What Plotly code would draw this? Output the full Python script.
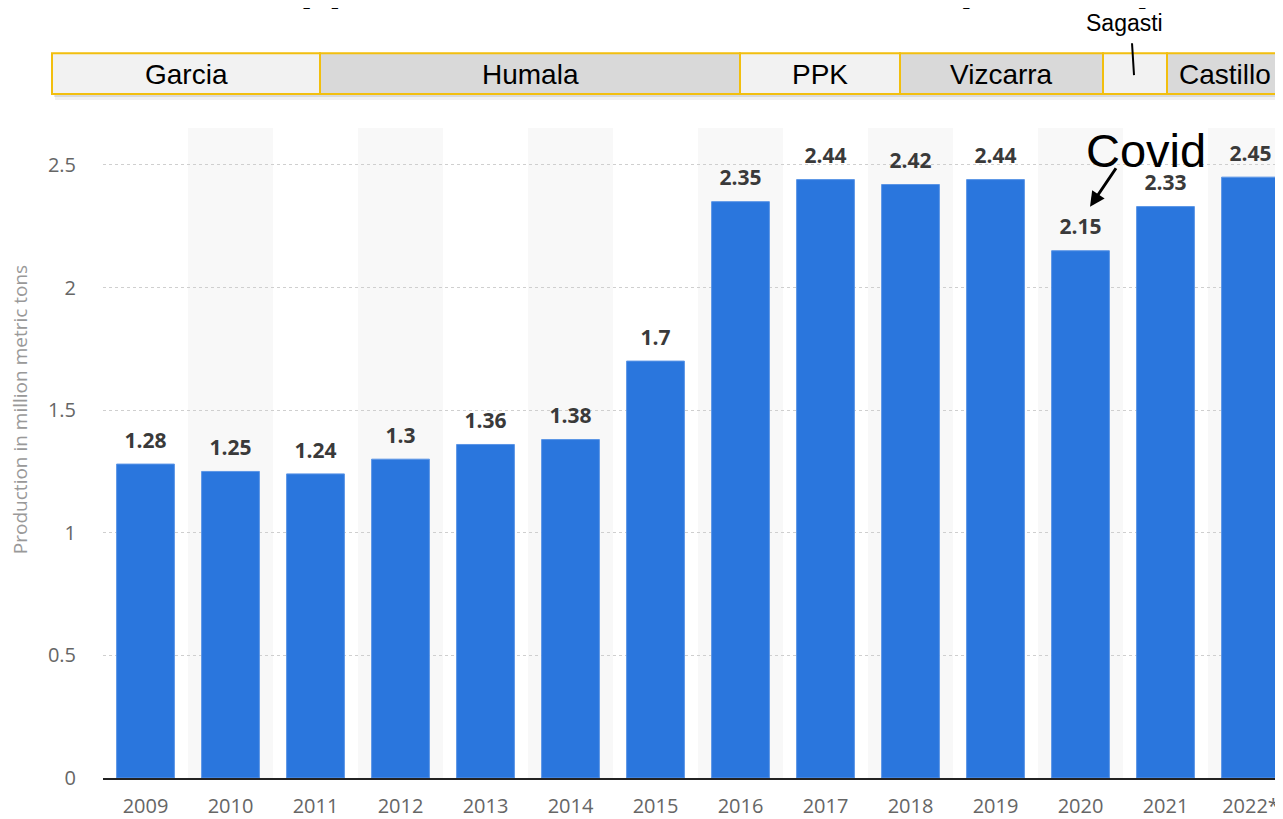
import plotly.graph_objects as go

# ---------------- data ----------------
years = ["2009", "2010", "2011", "2012", "2013", "2014", "2015",
         "2016", "2017", "2018", "2019", "2020", "2021", "2022*"]
production = [1.28, 1.25, 1.24, 1.3, 1.36, 1.38, 1.7,
              2.35, 2.44, 2.42, 2.44, 2.15, 2.33, 2.45]
value_labels = ["1.28", "1.25", "1.24", "1.3", "1.36", "1.38", "1.7",
                "2.35", "2.44", "2.42", "2.44", "2.15", "2.33", "2.45"]
y_ticks = [0, 0.5, 1, 1.5, 2, 2.5]
y_tick_labels = ["0", "0.5", "1", "1.5", "2", "2.5"]
presidents = ["Garcia", "Humala", "PPK", "Vizcarra", "", "Castillo"]
president_fills = ["#f2f2f2", "#d9d9d9", "#f2f2f2", "#d9d9d9", "#f2f2f2", "#d9d9d9"]
y_title = "Production in million metric tons"
title_text = "Copper Mine Production in Peru (2009-22)"

# ---------------- layout geometry (screen pixels) ----------------
OFF = 8                      # page (body) offset of the figure
W, H = 1283 - OFF, 819 - OFF
PL, PR, PT, PB = 103, 1283, 128, 780   # plot area on screen
band_edges = [52, 320, 740, 900, 1103, 1167, 1282]
BAND_T, BAND_B = 53, 94


def px(xs):
    return (xs - PL) / (PR - PL)


def py(ys):
    return (PB - ys) / (PB - PT)


n = len(years)
cat_w = 85.0
x_right = -0.5 + (PR - PL) / cat_w
y_top = (PB - PT) / 246.0

BAR = "#2a76dd"
FONT = "Open Sans"
ARIAL = "Liberation Sans"

fig = go.Figure()
fig.add_trace(go.Bar(
    x=list(range(n)), y=production,
    marker=dict(color=BAR, line=dict(width=1, color="#5b95e6")),
    width=0.68, hoverinfo="skip", showlegend=False,
))
fig.add_trace(go.Scatter(
    x=list(range(n)), y=production, mode="markers+text",
    text=value_labels, textposition="top center",
    textfont=dict(family=FONT, size=21, color="#3a3a3a", weight="bold"),
    marker=dict(size=16, color="rgba(0,0,0,0)"),
    hoverinfo="skip", showlegend=False, cliponaxis=False,
))

shapes = []
for i in range(n):
    if i % 2 == 1:
        shapes.append(dict(type="rect", xref="x", yref="paper",
                           x0=i - 0.5, x1=i + 0.5, y0=0, y1=1,
                           fillcolor="#f8f8f8", line=dict(width=0), layer="below"))
# band shadow
shapes.append(dict(type="rect", xref="paper", yref="paper",
                   x0=px(band_edges[0] + 3), x1=px(band_edges[-1] + 2),
                   y0=py(BAND_B + 6), y1=py(BAND_B),
                   fillcolor="rgba(0,0,0,0.06)", line=dict(width=0), layer="above"))
shapes.append(dict(type="rect", xref="paper", yref="paper",
                   x0=px(band_edges[0] + 2), x1=px(band_edges[-1] + 1),
                   y0=py(BAND_B + 3), y1=py(BAND_B),
                   fillcolor="rgba(0,0,0,0.09)", line=dict(width=0), layer="above"))
annotations = []
for k, name in enumerate(presidents):
    x0, x1 = band_edges[k], band_edges[k + 1]
    shapes.append(dict(type="rect", xref="paper", yref="paper",
                       x0=px(x0), x1=px(x1), y0=py(BAND_B), y1=py(BAND_T),
                       fillcolor=president_fills[k],
                       line=dict(color="#f2bf0f", width=2), layer="above"))
    if name:
        annotations.append(dict(xref="paper", yref="paper",
                                x=px((x0 + x1) / 2), y=py((BAND_T + BAND_B) / 2 + 1),
                                xanchor="center", yanchor="middle",
                                text=name, showarrow=False,
                                font=dict(family=ARIAL, size=28, color="#000")))
# Sagasti label + pointer line
annotations.append(dict(xref="paper", yref="paper", x=px(1124), y=py(23),
                        xanchor="center", yanchor="middle",
                        text="Sagasti", showarrow=False,
                        font=dict(family=ARIAL, size=23, color="#000")))
shapes.append(dict(type="line", xref="paper", yref="paper",
                   x0=px(1132), y0=py(43), x1=px(1134), y1=py(75),
                   line=dict(color="#000", width=2), layer="above"))

# Covid note + arrow
annotations.append(dict(xref="paper", yref="paper", x=px(1146), y=py(151),
                        xanchor="center", yanchor="middle",
                        text="Covid", showarrow=False,
                        font=dict(family=ARIAL, size=47, color="#000")))
annotations.append(dict(xref="paper", yref="paper", x=px(1090), y=py(207),
                        text="", showarrow=True, arrowhead=2, arrowsize=1,
                        arrowwidth=3, arrowcolor="#000",
                        ax=27, ay=-40, axref="pixel", ayref="pixel"))

# y axis title
annotations.append(dict(xref="paper", yref="paper", x=px(20), y=py(411),
                        xanchor="center", yanchor="middle",
                        text=y_title, showarrow=False, textangle=-90,
                        font=dict(family=FONT, size=19, color="#999")))

# title, mostly cut off at the top edge as in the source
annotations.append(dict(xref="paper", yref="paper", x=px(237), y=py(11),
                        xanchor="left", yanchor="bottom",
                        text="<b>" + title_text + "</b>", showarrow=False,
                        font=dict(family=ARIAL, size=46, color="#000")))

fig.update_layout(
    width=W, height=H,
    margin=dict(l=PL - OFF, r=0, t=PT - OFF, b=H - (PB - OFF), pad=0),
    paper_bgcolor="white", plot_bgcolor="white",
    bargap=0.32, showlegend=False,
    shapes=shapes, annotations=annotations,
    xaxis=dict(
        range=[-0.5, x_right], tickmode="array",
        tickvals=list(range(n)), ticktext=years,
        tickfont=dict(family=FONT, size=20, color="#666"),
        showgrid=False, zeroline=False,
        showline=True, linecolor="#222", linewidth=2,
        ticks="", ticklabelstandoff=9, fixedrange=True,
    ),
    yaxis=dict(
        range=[0, y_top], tickmode="array",
        tickvals=y_ticks, ticktext=y_tick_labels,
        tickfont=dict(family=FONT, size=20, color="#666"),
        showgrid=True, gridcolor="#cfcfcf", griddash="dot", gridwidth=1,
        zeroline=False, showline=False, ticks="",
        ticklabelstandoff=26, fixedrange=True,
    ),
)

fig.write_html("out.html")
